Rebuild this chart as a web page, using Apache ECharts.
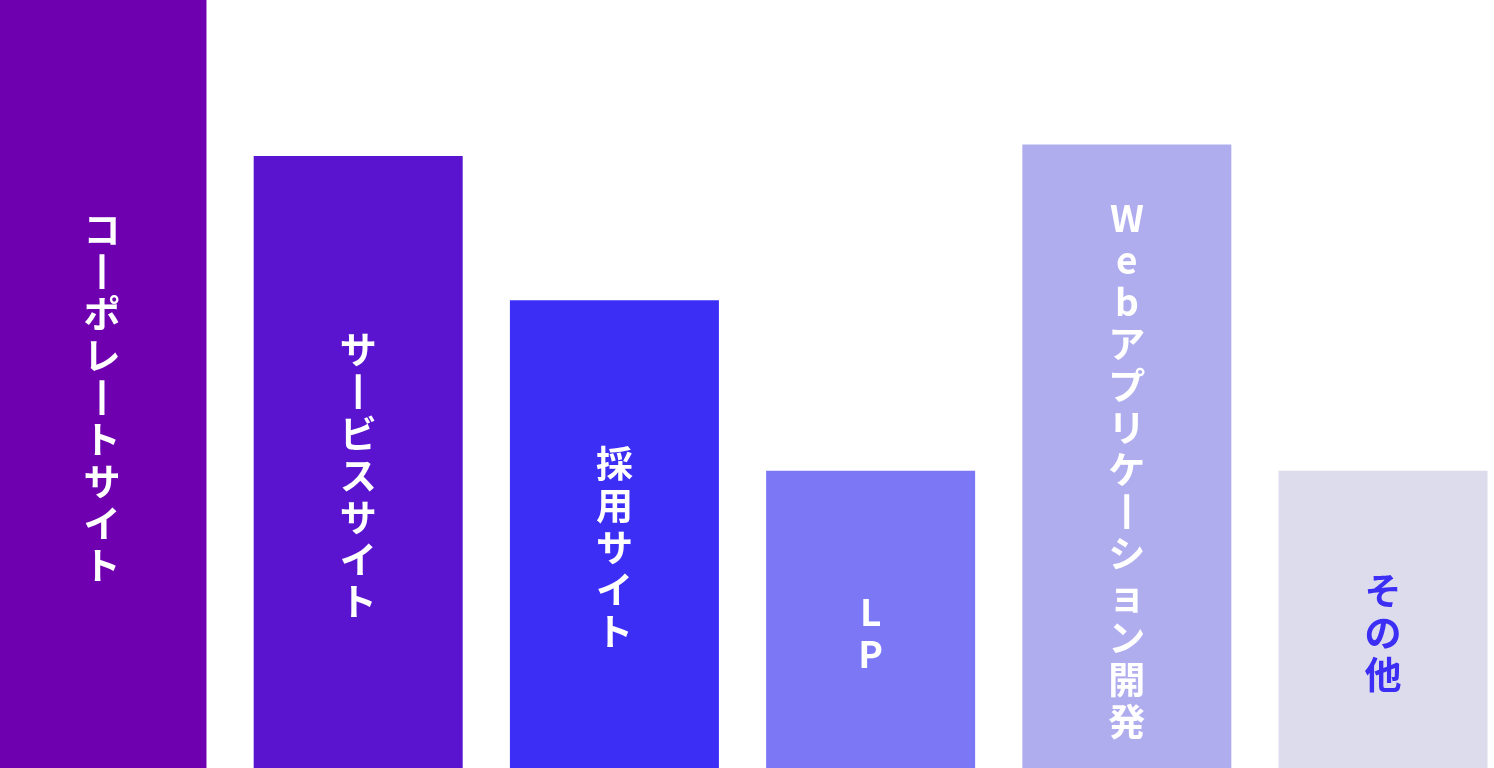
<!DOCTYPE html>
<html>
<head>
<meta charset="utf-8">
<script src="https://cdn.jsdelivr.net/npm/echarts@6/dist/echarts.min.js"></script>
<style>
html,body{margin:0;padding:0;background:#ffffff;}
#chart{width:1494px;height:768px;}
</style>
</head>
<body>
<div id="chart"></div>
<script>
const categories = ['コーポレートサイト', 'サービスサイト', '採用サイト', 'LP', 'Webアプリケーション開発', 'その他'];
const values = [100, 79.7, 60.9, 38.7, 81.2, 38.7];
const barColors = ['#6f00b0', '#5a14cf', '#3d2ef5', '#7b77f5', '#b0adef', '#dcdcec'];
const labelColors = ['#ffffff', '#ffffff', '#ffffff', '#ffffff', '#ffffff', '#3d2ef5'];

function verticalText(s) {
  return Array.from(s).map(function (c) { return c === 'ー' ? '丨' : c; }).join('\n');
}

const chart = echarts.init(document.getElementById('chart'));
chart.setOption({
  animation: false,
  grid: { left: 0, right: 0, top: 0, bottom: 0, containLabel: false },
  xAxis: {
    type: 'value',
    min: -0.398,
    max: 5.433,
    show: false
  },
  yAxis: {
    type: 'value',
    min: 0,
    max: 100,
    show: false
  },
  series: [{
    type: 'bar',
    barWidth: 209,
    data: values.map(function (v, i) {
      return {
        value: [i, v],
        name: categories[i],
        itemStyle: { color: barColors[i] },
        label: { color: labelColors[i] }
      };
    }),
    label: {
      show: true,
      position: 'inside',
      offset: [0, 14],
      fontFamily: '"Noto Sans CJK JP", "Noto Sans", sans-serif',
      fontWeight: 'bold',
      fontSize: 37,
      lineHeight: 42,
      align: 'center',
      formatter: function (p) { return verticalText(p.name); }
    }
  }]
});
</script>
</body>
</html>
